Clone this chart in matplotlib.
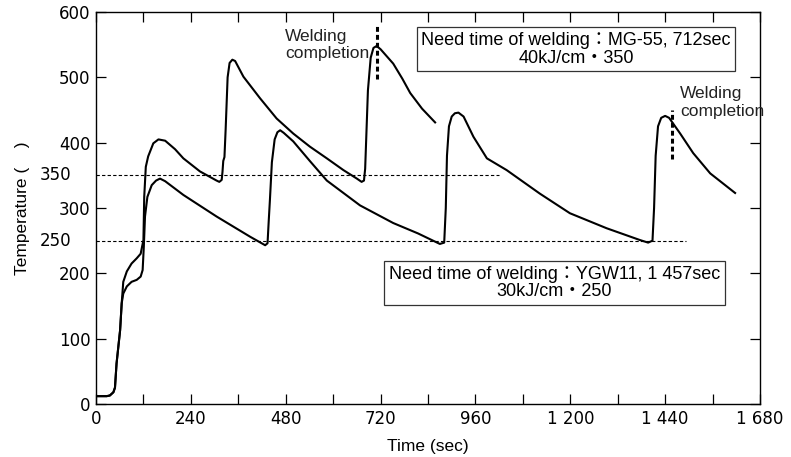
import matplotlib
matplotlib.use('Agg')
import matplotlib.pyplot as plt

plt.rcParams['font.family'] = ['Liberation Sans', 'Noto Sans CJK JP', 'DejaVu Sans']

# MG-55, 40kJ/cm, preheat 350 (upper curve)
t_mg = [0, 27, 35, 44, 48, 52, 61, 65, 69, 78, 90, 103, 113, 120, 122, 126, 132,
        145, 158, 175, 200, 221, 263, 305, 312, 318, 320, 322, 325, 328, 333, 338, 345,
        352, 373, 415, 457, 499, 541, 584, 626, 660, 672, 678, 681, 688, 695, 702,
        710, 720, 752, 775, 795, 825, 858]
T_mg = [12, 12, 13, 18, 25, 62, 113, 154, 187, 203, 215, 223, 230, 251, 317, 363, 379,
        399, 405, 403, 390, 376, 356, 342, 340, 343, 355, 372, 378, 420, 500, 522, 527,
        525, 501, 468, 437, 414, 394, 376, 358, 345, 340, 342, 360, 480, 530, 545,
        548, 543, 521, 498, 476, 452, 431]

# YGW11, 30kJ/cm, preheat 250 (lower curve)
t_ygw = [0, 27, 35, 44, 48, 52, 61, 65, 69, 78, 90, 103, 113, 118, 121, 124, 130,
         141, 152, 162, 175, 221, 305, 390, 428, 434, 437, 440, 445, 452, 459, 466,
         475, 499, 541, 584, 668, 752, 815, 870, 881, 885, 888, 893, 900, 908, 917,
         930, 955, 989, 1039, 1123, 1199, 1292, 1376, 1397, 1408, 1412, 1416, 1422,
         1430, 1440, 1450, 1478, 1511, 1554, 1617]
T_ygw = [12, 12, 13, 18, 25, 62, 113, 154, 169, 180, 187, 190, 195, 205, 241, 287, 317,
         335, 342, 345, 341, 320, 287, 256, 243, 246, 280, 312, 370, 405, 416, 419,
         415, 402, 372, 342, 304, 277, 261, 245, 247, 300, 380, 425, 440, 445, 446,
         440, 409, 376, 358, 322, 292, 269, 251, 247, 250, 300, 380, 425, 438, 441,
         438, 414, 384, 353, 323]

preheat = [350, 250]
preheat_end = [1020, 1493]
weld_end = [712, 1457]
weld_mark_lo = [498, 375]
weld_mark_hi = [578, 450]

x_ticks = [0, 120, 240, 360, 480, 600, 720, 840, 960, 1080, 1200, 1320, 1440, 1560, 1680]
x_labels = ['0', '', '240', '', '480', '', '720', '', '960', '', '1 200', '', '1 440', '', '1 680']
y_ticks = [0, 100, 200, 300, 400, 500, 600]

fig = plt.figure(figsize=(7.91, 4.57), dpi=100)
ax = fig.add_axes([96 / 791, 53 / 457, 664 / 791, 392 / 457])

ax.plot(t_mg, T_mg, color='black', lw=1.5)
ax.plot(t_ygw, T_ygw, color='black', lw=1.5)

for p, e in zip(preheat, preheat_end):
    ax.hlines(p, 0, e, color='black', lw=0.8, linestyles=(0, (3, 2)))
    ax.annotate(str(p), xy=(0, p), xycoords=('axes fraction', 'data'),
                xytext=(-18, 0), textcoords='offset points',
                ha='right', va='center', fontsize=12, family='DejaVu Sans')

for x, lo, hi in zip(weld_end, weld_mark_lo, weld_mark_hi):
    ax.vlines(x, lo, hi, color='black', lw=2.2, linestyles=(0, (1.6, 1.0)))

ax.text(478, 574, 'Welding\ncompletion', ha='left', va='top', fontsize=12.5, color='#222222')
ax.text(1478, 486, 'Welding\ncompletion', ha='left', va='top', fontsize=12.5, color='#222222')

box = dict(boxstyle='square,pad=0.25', facecolor='white', edgecolor='#333333', lw=0.9)
ax.text(1215, 543, 'Need time of welding：MG-55, 712sec\n40kJ/cm・350',
        ha='center', va='center', multialignment='center', fontsize=13,
        linespacing=1.05, bbox=box)
ax.text(1160, 185, 'Need time of welding：YGW11, 1 457sec\n30kJ/cm・250',
        ha='center', va='center', multialignment='center', fontsize=13,
        linespacing=1.05, bbox=box)

ax.set_xlim(0, 1680)
ax.set_ylim(0, 600)
ax.set_xticks(x_ticks)
ax.set_xticklabels(x_labels)
ax.set_yticks(y_ticks)
ax.tick_params(direction='in', length=7.5, width=0.9, top=True, right=True,
               labelsize=12, pad=4)
for lab in ax.get_xticklabels() + ax.get_yticklabels():
    lab.set_family('DejaVu Sans')
for s in ax.spines.values():
    s.set_linewidth(1.0)

ax.set_xlabel('Time (sec)', fontsize=12.5)
ax.set_ylabel('Temperature (    )', fontsize=12.5)
ax.yaxis.set_label_coords(-0.1, 0.5)
ax.xaxis.set_label_coords(0.5, -0.09)

fig.savefig('out.png', dpi=100)
